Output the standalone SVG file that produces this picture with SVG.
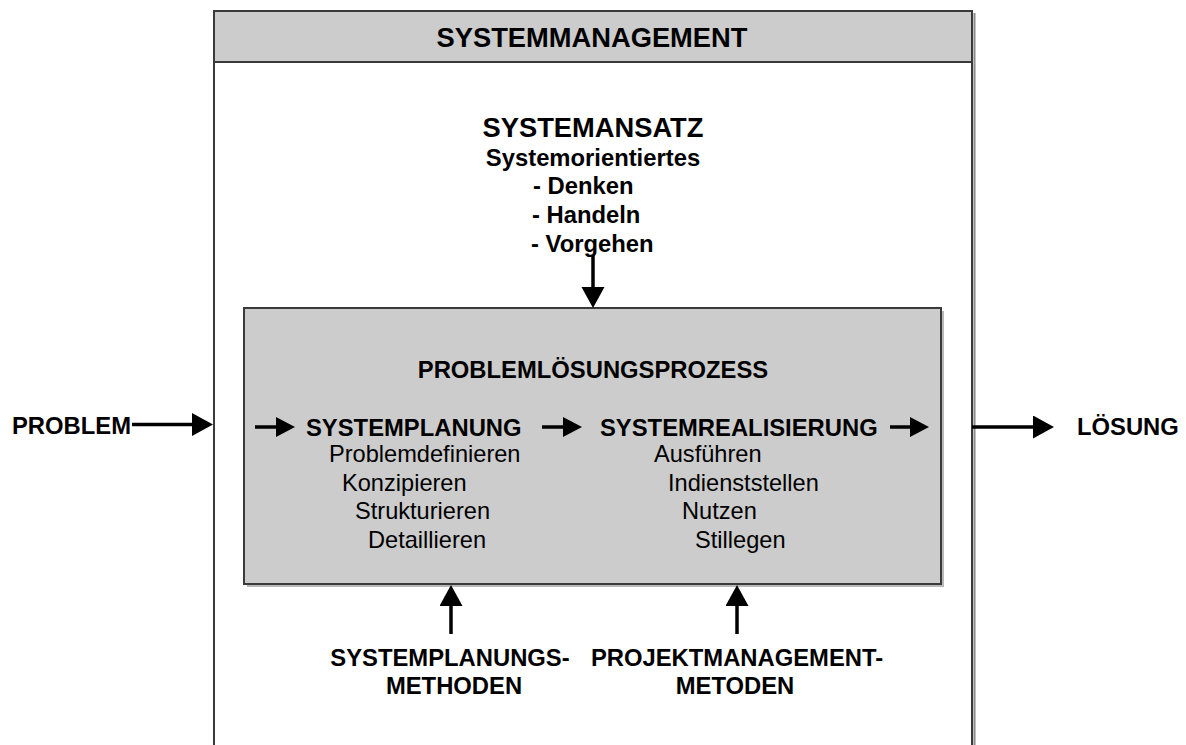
<svg xmlns="http://www.w3.org/2000/svg" width="1186" height="745" viewBox="0 0 1186 745">
  <style>
    .t { font-family: "Liberation Sans", Arial, sans-serif; fill: #000; }
    .b { font-weight: bold; font-size: 23.8px; }
    .h { font-weight: bold; font-size: 27.3px; }
    .r { font-size: 23.6px; }
    .mid { text-anchor: middle; }
    .frame { stroke: #3a3a3a; stroke-width: 2; }
    .shadow { fill: none; stroke: #8a8a8a; stroke-width: 2; }
    .arrow { stroke: #000; stroke-width: 3.5; fill: none; }
    .lg { marker-end: url(#head-lg); }
    .sm { marker-end: url(#head-sm); }
  </style>
  <defs>
    <marker id="head-lg" markerUnits="userSpaceOnUse" markerWidth="22" markerHeight="24" refX="0" refY="11.5" orient="auto">
      <path d="M0,0 L21,11.5 L0,23 z" fill="#000"/>
    </marker>
    <marker id="head-sm" markerUnits="userSpaceOnUse" markerWidth="20" markerHeight="22" refX="0" refY="10" orient="auto">
      <path d="M0,0 L19,10 L0,20 z" fill="#000"/>
    </marker>
  </defs>

  <rect width="1186" height="745" fill="#fff"/>

  <!-- outer frame: system management -->
  <g id="systemmanagement">
    <line x1="974.5" y1="13" x2="974.5" y2="760" class="shadow"/>
    <rect x="214" y="11" width="758" height="760" fill="#fff" class="frame"/>
    <rect x="214" y="11" width="758" height="51" fill="#cccccc" class="frame"/>
    <text x="592" y="46.5" class="t h mid">SYSTEMMANAGEMENT</text>
  </g>

  <!-- system approach -->
  <g id="systemansatz">
    <text x="593" y="137" class="t h mid">SYSTEMANSATZ</text>
    <text x="593" y="166" class="t b mid">Systemorientiertes</text>
    <text x="533" y="194" class="t b">- Denken</text>
    <text x="532" y="223" class="t b">- Handeln</text>
    <text x="531" y="252" class="t b">- Vorgehen</text>
  </g>

  <!-- problem solving process -->
  <g id="problemloesungsprozess">
    <rect x="247" y="311" width="697" height="276" fill="#9a9a9a" opacity="0.7"/>
    <rect x="244" y="308" width="697" height="276" fill="#cccccc" class="frame"/>
    <text x="593" y="378" class="t b mid">PROBLEMLÖSUNGSPROZESS</text>
  </g>

  <g id="systemplanung">
    <text x="306" y="436" class="t b">SYSTEMPLANUNG</text>
    <text x="329" y="462" class="t r">Problemdefinieren</text>
    <text x="342" y="490.5" class="t r">Konzipieren</text>
    <text x="355" y="519" class="t r">Strukturieren</text>
    <text x="368" y="548" class="t r">Detaillieren</text>
  </g>

  <g id="systemrealisierung">
    <text x="600" y="436" class="t b">SYSTEMREALISIERUNG</text>
    <text x="654" y="462" class="t r">Ausführen</text>
    <text x="668" y="490.5" class="t r">Indienststellen</text>
    <text x="682" y="519" class="t r">Nutzen</text>
    <text x="695" y="548" class="t r">Stillegen</text>
  </g>

  <g id="problem">
    <text x="12" y="434" class="t b">PROBLEM</text>
  </g>

  <g id="loesung">
    <text x="1077" y="435" class="t b">LÖSUNG</text>
  </g>

  <g id="systemplanungsmethoden">
    <text x="450" y="666" class="t b mid">SYSTEMPLANUNGS-</text>
    <text x="454" y="694" class="t b mid">METHODEN</text>
  </g>

  <g id="projektmanagementmethoden">
    <text x="737" y="666" class="t b mid">PROJEKTMANAGEMENT-</text>
    <text x="735" y="694" class="t b mid">METODEN</text>
  </g>

  <!-- connectors -->
  <g id="connectors">
    <line x1="593" y1="255" x2="593" y2="287" class="arrow lg"/>
    <line x1="132" y1="424.5" x2="192" y2="424.5" class="arrow lg"/>
    <line x1="972" y1="427" x2="1033" y2="427" class="arrow lg"/>
    <line x1="255" y1="427" x2="276" y2="427" class="arrow sm"/>
    <line x1="542" y1="427" x2="563" y2="427" class="arrow sm"/>
    <line x1="890" y1="427" x2="910" y2="427" class="arrow sm"/>
    <line x1="451" y1="634" x2="451" y2="606" class="arrow lg"/>
    <line x1="737" y1="634" x2="737" y2="606" class="arrow lg"/>
  </g>
</svg>
